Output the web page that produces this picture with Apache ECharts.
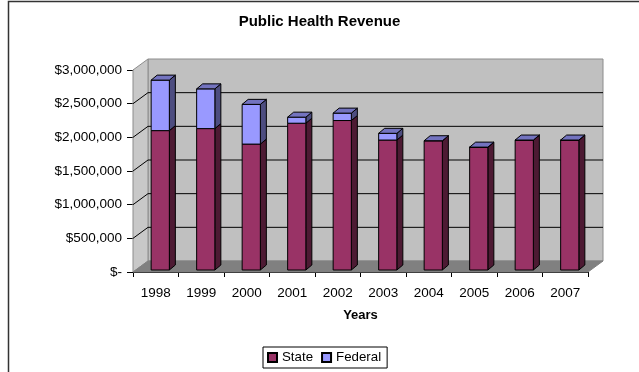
<!DOCTYPE html>
<html><head><meta charset="utf-8">
<script src="https://cdn.jsdelivr.net/npm/echarts@6/dist/echarts.min.js"></script>
<style>html,body{margin:0;padding:0;background:#fff}#c{width:639px;height:372px}</style>
</head><body><div id="c"></div>
<script>
const categories = ['1998','1999','2000','2001','2002','2003','2004','2005','2006','2007'];
const stateValues = [2070000, 2100000, 1870000, 2180000, 2220000, 1930000, 1920000, 1825000, 1930000, 1930000];
const federalValues = [750000, 590000, 590000, 90000, 110000, 100000, 0, 0, 0, 0];
const yTicks = [0, 500000, 1000000, 1500000, 2000000, 2500000, 3000000];

const DX = 15, DY = -11;       // wall depth
const BDX = 6, BDY = -5;       // bar depth
const FOX = 4.5, FOY = -2;     // bar front-face offset
const FONT = 'Liberation Sans, Arial, sans-serif';

function fmt(v){ if(v===0) return '$-'; return '$' + v.toString().replace(/\B(?=(\d{3})+(?!\d))/g, ','); }

const chart = echarts.init(document.getElementById('c'), null, {renderer:'canvas'});

function wallItem(params, api){
  const n = categories.length;
  const half = api.size([1,0])[0]/2;
  const p0 = api.coord([0, 0]), pN = api.coord([n-1, 0]);
  const xL = p0[0]-half, xR = pN[0]+half;
  const y0 = p0[1], yT = api.coord([0, yTicks[yTicks.length-1]])[1];
  const ch = [];
  ch.push({type:'polygon', shape:{points:[[xL+DX,y0+DY],[xR+DX,y0+DY],[xR+DX,yT+DY],[xL+DX,yT+DY]]}, style:{fill:'#c0c0c0', stroke:'#8c8c8c', lineWidth:1}});
  ch.push({type:'polygon', shape:{points:[[xL,y0],[xL,yT],[xL+DX,yT+DY],[xL+DX,y0+DY]]}, style:{fill:'#c8c8c8', stroke:'#8c8c8c', lineWidth:1}});
  ch.push({type:'polygon', shape:{points:[[xL,y0],[xR,y0],[xR+DX,y0+DY],[xL+DX,y0+DY]]}, style:{fill:'#808080', stroke:'#808080', lineWidth:1}});
  for(let k=1;k<yTicks.length-1;k++){
    const y = api.coord([0, yTicks[k]])[1];
    ch.push({type:'polyline', shape:{points:[[xL,y],[xL+DX,y+DY],[xR+DX,y+DY]]}, style:{stroke:'#000', lineWidth:1, fill:null}});
  }
  return {type:'group', children:ch};
}

function barBox(api, i, lo, hi, front, side, topc, drawTop){
  const band = api.size([1,0])[0];
  const w = band*0.4;
  const b = api.coord([i, lo]), t = api.coord([i, hi]);
  const x0 = b[0]-w/2+FOX, yb = b[1]+FOY, yt = t[1]+FOY, x1 = x0+w;
  const st = {stroke:'#000', lineWidth:1, lineJoin:'round'};
  const ch = [];
  ch.push({type:'polygon', shape:{points:[[x1,yt],[x1+BDX,yt+BDY],[x1+BDX,yb+BDY],[x1,yb]]}, style:Object.assign({fill:side}, st)});
  ch.push({type:'rect', shape:{x:x0, y:yt, width:w, height:yb-yt}, style:Object.assign({fill:front}, st)});
  if(drawTop) ch.push({type:'polygon', shape:{points:[[x0,yt],[x1,yt],[x1+BDX,yt+BDY],[x0+BDX,yt+BDY]]}, style:Object.assign({fill:topc}, st)});
  return {type:'group', children:ch};
}

chart.setOption({
  animation:false,
  title:{text:'Public Health Revenue', left:'center', top:9, textStyle:{fontFamily:FONT, fontSize:15, fontWeight:'bold', color:'#000'}},
  grid:{left:133, right:51, top:70, bottom:100, containLabel:false},
  legend:{bottom:4, left:263, data:['State','Federal'], itemWidth:9, itemHeight:9, itemGap:8, icon:'rect',
    borderColor:'#000', borderWidth:1, padding:[4,6,4,4], textStyle:{fontFamily:FONT, fontSize:13.3, color:'#000', padding:[0,0,0,0]}},
  xAxis:{type:'category', data:categories, name:'Years', nameLocation:'middle', nameGap:37,
    nameTextStyle:{fontFamily:FONT, fontSize:13, fontWeight:'bold', color:'#000'},
    axisLine:{lineStyle:{color:'#000'}}, axisTick:{show:true, alignWithLabel:false, length:5, lineStyle:{color:'#000'}},
    axisLabel:{fontFamily:FONT, fontSize:13.5, color:'#000', margin:14}, splitLine:{show:false}},
  yAxis:{type:'value', min:0, max:3000000, interval:500000,
    axisLine:{show:true, lineStyle:{color:'#000'}}, axisTick:{show:true, length:6, lineStyle:{color:'#000'}},
    axisLabel:{fontFamily:FONT, fontSize:13.5, color:'#000', margin:11, formatter:fmt}, splitLine:{show:false}},
  series:[
    {type:'custom', name:'walls', silent:true, z:1, data:[[0,0]], renderItem:wallItem, legendHoverLink:false},
    {type:'custom', name:'State', z:2, itemStyle:{color:'#993366', borderColor:'#000', borderWidth:1},
      data:stateValues.map((v,i)=>[i,v]),
      renderItem:(p,api)=>barBox(api, api.value(0), 0, api.value(1), '#993366', '#4d1a33', '#7a2950', false)},
    {type:'custom', name:'Federal', z:3, itemStyle:{color:'#9999ff', borderColor:'#000', borderWidth:1},
      data:federalValues.map((v,i)=>[i, stateValues[i], stateValues[i]+v]),
      renderItem:(p,api)=>barBox(api, api.value(0), api.value(1), api.value(2), '#9999ff', '#4d4d80', '#7373bf', true)}
  ],
  graphic:[
    {type:'polyline', shape:{points:[[8.5,372],[8.5,1.5],[639,1.5]]}, style:{stroke:'#333', lineWidth:1.5, fill:null}, z:100}
  ]
});
</script></body></html>
